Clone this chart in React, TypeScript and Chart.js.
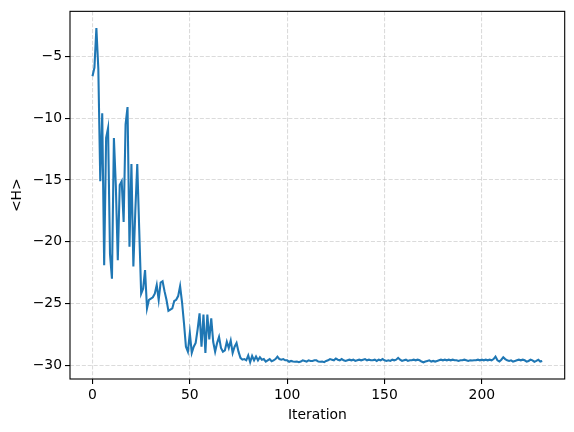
import React, { useEffect, useRef } from "react";
import { Chart, registerables } from "chart.js";

Chart.register(...registerables);

const earlyValues: number[] = [
  -6.6, -5.9, -2.7, -6.0, -15.1, -9.6, -21.9, -11.6, -10.8, -21.0,
  -23.0, -11.6, -15.5, -21.5, -15.4, -15.1, -18.4, -10.5, -9.1, -20.4,
  -13.7, -22.0, -17.5, -13.7, -19.0, -24.2, -23.8, -22.3, -25.4, -24.7,
  -24.6, -24.5, -24.2, -23.5, -24.7, -23.3, -23.2, -24.0, -24.7, -25.6,
  -25.5, -25.4, -24.8, -24.7, -24.4, -23.6, -24.9, -26.6, -28.5, -28.9,
  -27.4, -29.0, -28.5, -28.2, -27.1, -25.8, -28.5, -25.9, -29.0, -25.9,
  -27.9, -26.2, -28.1, -28.9, -28.2, -27.7, -28.6, -28.9, -28.8, -28.1,
  -28.6, -28.0, -29.0, -28.5, -28.2, -28.9, -29.4,
];

const lateValues: number[] = [
  -29.55, -29.5, -29.6, -29.2, -29.75, -29.25, -29.6, -29.3, -29.6, -29.35,
  -29.55, -29.5, -29.7, -29.6, -29.5, -29.68, -29.6, -29.5, -29.3, -29.5,
  -29.55, -29.5, -29.6, -29.6, -29.72, -29.65, -29.7, -29.72, -29.7, -29.75,
  -29.7, -29.6, -29.65, -29.7, -29.6, -29.65, -29.65, -29.6, -29.6, -29.7,
  -29.72, -29.7, -29.75, -29.65, -29.6, -29.5, -29.55, -29.6, -29.45, -29.55,
  -29.6, -29.5, -29.6, -29.65, -29.6, -29.55, -29.6, -29.55, -29.65, -29.6,
  -29.55, -29.6, -29.55, -29.5, -29.6, -29.55, -29.6, -29.6, -29.55, -29.65,
  -29.55, -29.6, -29.5, -29.6, -29.65, -29.6, -29.65, -29.55, -29.6, -29.55,
  -29.4, -29.55, -29.65, -29.6, -29.55, -29.65, -29.6, -29.6, -29.55, -29.6,
  -29.55, -29.6, -29.7, -29.76, -29.7, -29.65, -29.6, -29.7, -29.65, -29.7,
  -29.65, -29.6, -29.55, -29.6, -29.55, -29.6, -29.55, -29.6, -29.55, -29.6,
  -29.6, -29.65, -29.6, -29.6, -29.55, -29.6, -29.65, -29.6, -29.62, -29.6,
  -29.6, -29.55, -29.6, -29.55, -29.6, -29.55, -29.6, -29.55, -29.6, -29.5,
  -29.3, -29.6, -29.7, -29.55, -29.35, -29.5, -29.6, -29.65, -29.6, -29.7,
  -29.65, -29.6, -29.55, -29.6, -29.55, -29.6, -29.7, -29.65, -29.55, -29.6,
  -29.72, -29.65, -29.55, -29.7, -29.65,
];

const energyValues: number[] = [...earlyValues, ...lateValues];
const xTicks: number[] = [0, 50, 100, 150, 200];
const yTicks: number[] = [-30, -25, -20, -15, -10, -5];
const xLabel = "Iteration";
const yLabel = "<H>";

const fmt = (v: number) => (v < 0 ? "\u2212" + Math.abs(v) : String(v));

const FONT = { family: "DejaVu Sans", size: 13.9 };

const spinePlugin = {
  id: "spines",
  afterDraw(chart: any) {
    const { ctx, chartArea } = chart;
    ctx.save();
    ctx.strokeStyle = "#000";
    ctx.lineWidth = 1.1;
    ctx.strokeRect(chartArea.left, chartArea.top, chartArea.right - chartArea.left, chartArea.bottom - chartArea.top);
    ctx.restore();
  },
};

export default function App() {
  const ref = useRef<HTMLCanvasElement | null>(null);
  useEffect(() => {
    if (!ref.current) return;
    const n = energyValues.length;
    const margin = (n - 1) * 0.05;
    const ymin = Math.min(...energyValues);
    const ymax = Math.max(...energyValues);
    const ym = (ymax - ymin) * 0.05;
    const chart = new Chart(ref.current, {
      type: "line",
      data: {
        datasets: [
          {
            data: energyValues.map((v, i) => ({ x: i, y: v })),
            borderColor: "#1f77b4",
            borderWidth: 2.08,
            pointRadius: 0,
            tension: 0,
            fill: false,
          },
        ],
      },
      plugins: [spinePlugin],
      options: {
        animation: false,
        responsive: false,
        events: [],
        layout: { padding: { left: 0, right: 9.3, top: 10, bottom: 0 } },
        plugins: { legend: { display: false }, tooltip: { enabled: false } },
        scales: {
          x: {
            type: "linear",
            min: -margin,
            max: n - 1 + margin,
            afterBuildTicks: (s: any) => {
              s.ticks = xTicks.map((v) => ({ value: v }));
            },
            afterFit: (s: any) => {
              s.height = 53;
            },
            border: { display: false, dash: [4.1, 1.8] },
            grid: {
              color: "rgba(176,176,176,0.45)",
              lineWidth: 1.1,
              tickColor: "#000",
              tickLength: 5,
              tickWidth: 1.1,
              tickBorderDash: [],
            },
            ticks: {
              color: "#000",
              font: FONT,
              padding: 3,
              maxRotation: 0,
              callback: (v: any) => fmt(Number(v)),
            },
            title: { display: true, text: xLabel, color: "#000", font: FONT, padding: { top: 0, bottom: 8 } },
          },
          y: {
            type: "linear",
            min: ymin - ym,
            max: ymax + ym,
            afterBuildTicks: (s: any) => {
              s.ticks = yTicks.map((v) => ({ value: v }));
            },
            afterFit: (s: any) => {
              s.width = 70;
            },
            border: { display: false, dash: [4.1, 1.8] },
            grid: {
              color: "rgba(176,176,176,0.45)",
              lineWidth: 1.1,
              tickColor: "#000",
              tickLength: 5,
              tickWidth: 1.1,
              tickBorderDash: [],
            },
            ticks: {
              color: "#000",
              font: FONT,
              padding: 3,
              callback: (v: any) => fmt(Number(v)),
            },
            title: { display: true, text: yLabel, color: "#000", font: FONT, padding: { top: 9, bottom: 0 } },
          },
        },
      },
    } as any);
    return () => chart.destroy();
  }, []);
  return (
    <div style={{ position: "fixed", left: 0, top: 0, width: 574, height: 432, background: "#fff" }}>
      <canvas ref={ref} width={574} height={432} style={{ width: 574, height: 432 }} />
    </div>
  );
}
